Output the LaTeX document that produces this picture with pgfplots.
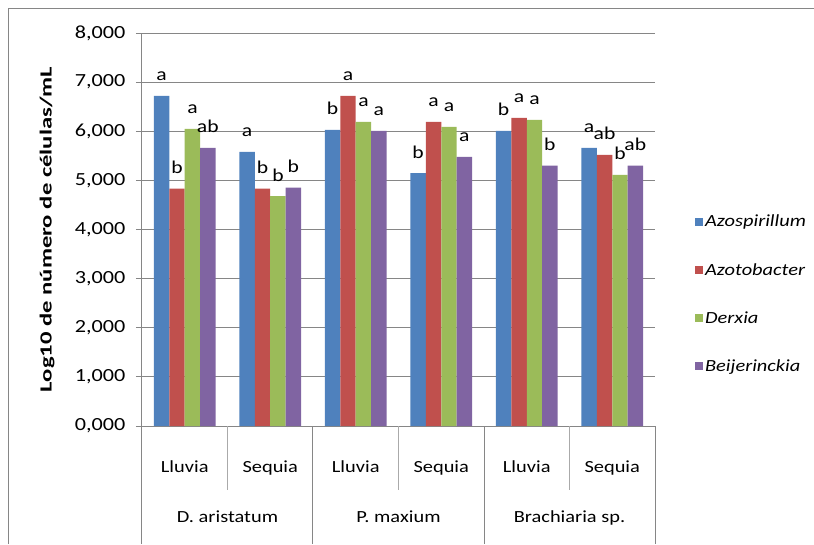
\documentclass[border=0pt]{standalone}
\usepackage{fontspec}
\setmainfont{Carlito}[FakeStretch=1.2]
\newfontfamily\ylabfont{Carlito}[FakeStretch=1.45]
\usepackage{pgfplots}
\pgfplotsset{compat=1.18}
\definecolor{cazo}{HTML}{4F81BD}
\definecolor{cazt}{HTML}{C0504D}
\definecolor{cder}{HTML}{9BBB59}
\definecolor{cbei}{HTML}{8064A2}
\definecolor{axgray}{HTML}{868686}
\begin{document}
\begin{tikzpicture}
\useasboundingbox (-142pt,-118pt) rectangle (672pt,426pt);
\draw[axgray, line width=1pt] (-133pt,-118pt) -- (-133pt,417pt) -- (672pt,417pt);
\begin{axis}[
    at={(0pt,0pt)}, anchor=south west,
    scale only axis, width=513pt, height=393pt,
    clip=false,
    xmin=-0.5, xmax=5.5, ymin=0, ymax=8,
    ybar=0pt, bar width=0.18,
    xtick={0,...,5},
    xticklabels={Lluvia,Sequia,Lluvia,Sequia,Lluvia,Sequia},
    xtick style={draw=none},
    xticklabel style={font=\fontsize{17}{20}\selectfont, anchor=base, yshift=-40pt},
    ytick={0,...,8},
    tick align=outside,
    major tick length=6pt,
    ytick style={axgray, line width=1pt},
    yticklabel style={font=\fontsize{18.5}{21}\selectfont, anchor=east, xshift=-7pt},
    /pgf/number format/.cd, fixed, fixed zerofill, precision=3, use comma,
    assume math mode=true, /pgfplots/.cd,
    axis x line*=bottom, axis y line*=left,
    axis line style={axgray, line width=1pt, -},
    ymajorgrids=true,
    major grid style={axgray, line width=1pt},
    ylabel={\ylabfont\bfseries\fontsize{17}{20}\selectfont Log10 de número de células/mL},
    ylabel style={at={(-95pt,0.5)}, anchor=center},
    point meta=explicit symbolic,
    nodes near coords,
    every node near coord/.append style={font=\fontsize{18}{20}\selectfont, anchor=base, yshift=15pt, inner sep=0pt},
    legend style={at={(1.072,0.336)}, anchor=west, draw=none, fill=none,
        font=\fontsize{17}{20}\selectfont\itshape, row sep=31pt},
    legend cell align=left,
    legend image code/.code={\fill[#1] (0pt,-4pt) rectangle (8pt,4pt);},
]
\addplot[fill=cazo, draw=none] coordinates {(0,6.72) [a] (1,5.58) [a] (2,6.03) [b] (3,5.15) [b] (4,6.01) [b] (5,5.66) [a]};
\addlegendentry{Azospirillum}
\addplot[fill=cazt, draw=none] coordinates {(0,4.83) [b] (1,4.83) [b] (2,6.72) [a] (3,6.19) [a] (4,6.27) [a] (5,5.52) [ab]};
\addlegendentry{Azotobacter}
\addplot[fill=cder, draw=none] coordinates {(0,6.05) [a] (1,4.68) [b] (2,6.19) [a] (3,6.09) [a] (4,6.23) [a] (5,5.11) [b]};
\addlegendentry{Derxia}
\addplot[fill=cbei, draw=none] coordinates {(0,5.66) [ab] (1,4.85) [b] (2,6.01) [a] (3,5.48) [a] (4,5.30) [b] (5,5.30) [ab]};
\addlegendentry{Beijerinckia}
\draw[axgray, line width=1pt] (axis cs:-0.5,0) -- ++(0pt,-118pt);
\draw[axgray, line width=1pt] (axis cs:1.5,0) -- ++(0pt,-118pt);
\draw[axgray, line width=1pt] (axis cs:3.5,0) -- ++(0pt,-118pt);
\draw[axgray, line width=1pt] (axis cs:5.5,0) -- ++(0pt,-118pt);
\draw[axgray!70, line width=1pt] (axis cs:0.5,0) -- ++(0pt,-64pt);
\draw[axgray!70, line width=1pt] (axis cs:2.5,0) -- ++(0pt,-64pt);
\draw[axgray!70, line width=1pt] (axis cs:4.5,0) -- ++(0pt,-64pt);
\node[font=\fontsize{17}{20}\selectfont, anchor=base] at ([yshift=-96pt]axis cs:0.5,0) {D. aristatum};
\node[font=\fontsize{17}{20}\selectfont, anchor=base] at ([yshift=-96pt]axis cs:2.5,0) {P. maxium};
\node[font=\fontsize{17}{20}\selectfont, anchor=base] at ([yshift=-96pt]axis cs:4.5,0) {Brachiaria sp.};
\end{axis}
\end{tikzpicture}
\end{document}
